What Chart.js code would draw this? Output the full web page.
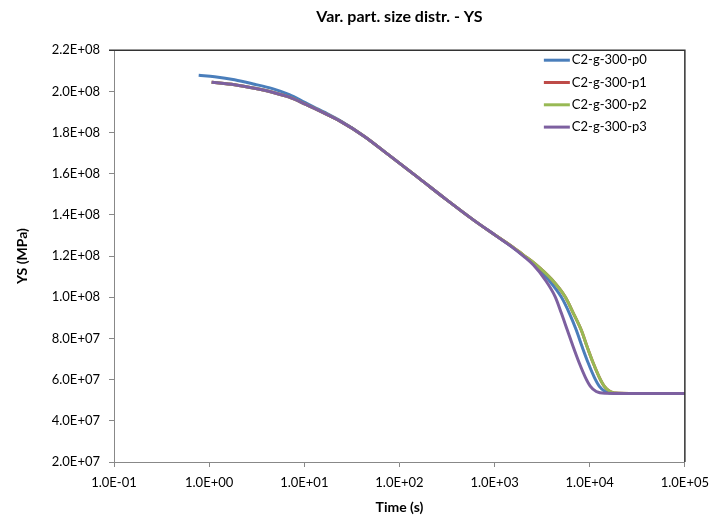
<!DOCTYPE html>
<html>
<head>
<meta charset="utf-8">
<script src="https://cdn.jsdelivr.net/npm/chart.js@4.4.1/dist/chart.umd.min.js"></script>
<style>
  html, body { margin: 0; padding: 0; background: #fff; }
  #wrap { width: 717px; height: 527px; }
</style>
</head>
<body>
<div id="wrap"><canvas id="grafico"></canvas></div>
<script>
// series (time in s, YS)
const seriesNames = ['C2-g-300-p0', 'C2-g-300-p1', 'C2-g-300-p2', 'C2-g-300-p3'];
const seriesColors = ['#4A7EBB', '#BE4B48', '#98B954', '#7D60A0'];

const timeP0 = [0.7765, 1.142, 1.849, 2.995, 4.623, 6.964, 10.24, 16.2, 23.26, 42.49, 77.65, 160, 306.9, 602.7, 1049, 1507, 2012, 2688, 3677, 5030, 6100, 7220, 8346, 9645, 11150, 12580, 14530, 18050, 32200, 100000];
const ysP0 = [2.0786e8, 2.0714e8, 2.0568e8, 2.035e8, 2.0131e8, 1.984e8, 1.9451e8, 1.899e8, 1.8602e8, 1.7825e8, 1.6903e8, 1.5786e8, 1.4767e8, 1.3748e8, 1.2971e8, 1.2461e8, 1.2024e8, 1.1563e8, 1.0859e8, 1.001e8, 9.233e7, 8.408e7, 7.583e7, 6.806e7, 6.126e7, 5.689e7, 5.422e7, 5.335e7, 5.325e7, 5.325e7];

const timeP1 = [1.062, 1.849, 2.995, 4.623, 6.964, 10.24, 16.2, 23.26, 42.49, 77.65, 160, 306.9, 602.7, 1049, 1507, 2012, 2688, 3953, 5540, 6717, 8147, 9415, 10880, 12580, 14190, 16400, 20370, 36330, 100000];
const ysP1 = [2.0447e8, 2.0325e8, 2.0155e8, 1.9961e8, 1.9718e8, 1.9379e8, 1.8942e8, 1.8578e8, 1.7825e8, 1.6903e8, 1.5786e8, 1.4767e8, 1.3748e8, 1.2971e8, 1.2485e8, 1.2049e8, 1.1612e8, 1.0884e8, 1.001e8, 9.233e7, 8.408e7, 7.583e7, 6.806e7, 6.126e7, 5.689e7, 5.422e7, 5.335e7, 5.325e7, 5.325e7];

const timeP2 = [1.062, 1.849, 2.995, 4.623, 6.964, 10.24, 16.2, 23.26, 42.49, 77.65, 160, 306.9, 602.7, 1049, 1507, 2012, 2688, 3953, 5540, 6717, 8147, 9415, 10880, 12580, 14190, 16400, 20370, 36330, 100000];
const ysP2 = [2.0447e8, 2.0325e8, 2.0155e8, 1.9961e8, 1.9718e8, 1.9379e8, 1.8942e8, 1.8578e8, 1.7825e8, 1.6903e8, 1.5786e8, 1.4767e8, 1.3748e8, 1.2971e8, 1.2485e8, 1.2049e8, 1.1612e8, 1.0884e8, 1.001e8, 9.233e7, 8.408e7, 7.583e7, 6.806e7, 6.126e7, 5.689e7, 5.422e7, 5.335e7, 5.325e7, 5.325e7];

const timeP3 = [1.062, 1.849, 2.995, 4.623, 6.964, 10.24, 16.2, 23.26, 42.49, 77.65, 160, 306.9, 602.7, 1049, 1507, 2012, 2562, 3420, 4352, 5030, 5812, 6717, 7765, 8973, 10120, 11700, 14530, 25310, 100000];
const ysP3 = [2.0447e8, 2.0325e8, 2.0155e8, 1.9961e8, 1.9718e8, 1.9379e8, 1.8942e8, 1.8578e8, 1.7825e8, 1.6903e8, 1.5786e8, 1.4767e8, 1.3748e8, 1.2971e8, 1.2461e8, 1.2e8, 1.1563e8, 1.0835e8, 1.001e8, 9.233e7, 8.408e7, 7.583e7, 6.806e7, 6.126e7, 5.689e7, 5.422e7, 5.335e7, 5.325e7, 5.325e7];

const xTicks = [0.1, 1, 10, 100, 1000, 10000, 100000];
const yMin = 2e7, yMax = 2.2e8, yStep = 2e7;

const fonte = "Lato, 'Open Sans', sans-serif";

function formatoExp(v) {
  const [m, e] = Number(v).toExponential(1).split('e');
  const sinal = e[0] === '-' ? '-' : '+';
  const exp = String(Math.abs(parseInt(e, 10))).padStart(2, '0');
  return m + 'E' + sinal + exp;
}

function montaSerie(tempos, valores) {
  return tempos.map((t, i) => ({ x: t, y: valores[i] }));
}

const todasSeries = [[timeP0, ysP0], [timeP1, ysP1], [timeP2, ysP2], [timeP3, ysP3]];

// legend drawn inside the plot, top right
const legendaInterna = {
  id: 'legendaInterna',
  afterDraw(chart) {
    const { ctx, chartArea } = chart;
    ctx.save();
    ctx.font = '13px ' + fonte;
    ctx.textBaseline = 'middle';
    seriesNames.forEach((nome, i) => {
      const y = chartArea.top + 10 + i * 22.3;
      const x0 = chartArea.right - 141;
      ctx.strokeStyle = seriesColors[i];
      ctx.lineWidth = 3;
      ctx.beginPath();
      ctx.moveTo(x0, y);
      ctx.lineTo(x0 + 26, y);
      ctx.stroke();
      ctx.fillStyle = '#000';
      ctx.fillText(nome, x0 + 28, y);
    });
    ctx.restore();
  }
};

// dark frame on top and right of the plot area
const moldura = {
  id: 'moldura',
  afterDatasetsDraw(chart) {
    const { ctx, chartArea } = chart;
    ctx.save();
    ctx.strokeStyle = '#333';
    ctx.lineWidth = 1.5;
    ctx.beginPath();
    ctx.moveTo(chartArea.left - 5, chartArea.top);
    ctx.lineTo(chartArea.right, chartArea.top);
    ctx.lineTo(chartArea.right, chartArea.bottom);
    ctx.stroke();
    ctx.restore();
  }
};

new Chart(document.getElementById('grafico').getContext('2d'), {
  type: 'line',
  data: {
    datasets: todasSeries.map(([t, v], i) => ({
      label: seriesNames[i],
      data: montaSerie(t, v),
      borderColor: seriesColors[i],
      backgroundColor: seriesColors[i],
      borderWidth: 3,
      pointRadius: 0,
      fill: false,
      cubicInterpolationMode: 'monotone',
      order: 3 - i
    }))
  },
  options: {
    responsive: true,
    maintainAspectRatio: false,
    animation: false,
    layout: { padding: { top: 0, left: 0, right: 30, bottom: 0 } },
    scales: {
      x: {
        type: 'logarithmic',
        min: 0.1,
        max: 100000,
        afterBuildTicks: scale => { scale.ticks = xTicks.map(v => ({ value: v })); },
        afterFit: scale => { scale.height = 65; },
        ticks: {
          color: '#000',
          font: { family: fonte, size: 13 },
          padding: 8,
          maxRotation: 0,
          autoSkip: false,
          callback: v => formatoExp(v)
        },
        grid: { drawOnChartArea: false, drawTicks: true, tickLength: 5, color: '#888' },
        border: { display: true, color: '#888' },
        title: {
          display: true,
          text: 'Time (s)',
          color: '#000',
          font: { family: fonte, size: 14, weight: 'bold' },
          padding: { top: 0, bottom: 11 }
        }
      },
      y: {
        type: 'linear',
        min: yMin,
        max: yMax,
        afterFit: scale => { scale.width = 114; },
        ticks: {
          stepSize: yStep,
          color: '#000',
          font: { family: fonte, size: 13 },
          padding: 9,
          callback: v => formatoExp(v)
        },
        grid: { drawOnChartArea: false, drawTicks: true, tickLength: 5, color: '#888' },
        border: { display: true, color: '#888' },
        title: {
          display: true,
          text: 'YS (MPa)',
          color: '#000',
          font: { family: fonte, size: 14, weight: 'bold' },
          padding: { top: 14, bottom: 0 }
        }
      }
    },
    plugins: {
      legend: { display: false },
      tooltip: { enabled: false },
      title: {
        display: true,
        text: 'Var. part. size distr. - YS',
        color: '#000',
        fullSize: false,
        font: { family: fonte, size: 16, weight: 'bold' },
        padding: { top: 7, bottom: 24 }
      }
    }
  },
  plugins: [legendaInterna, moldura]
});
</script>
</body>
</html>
